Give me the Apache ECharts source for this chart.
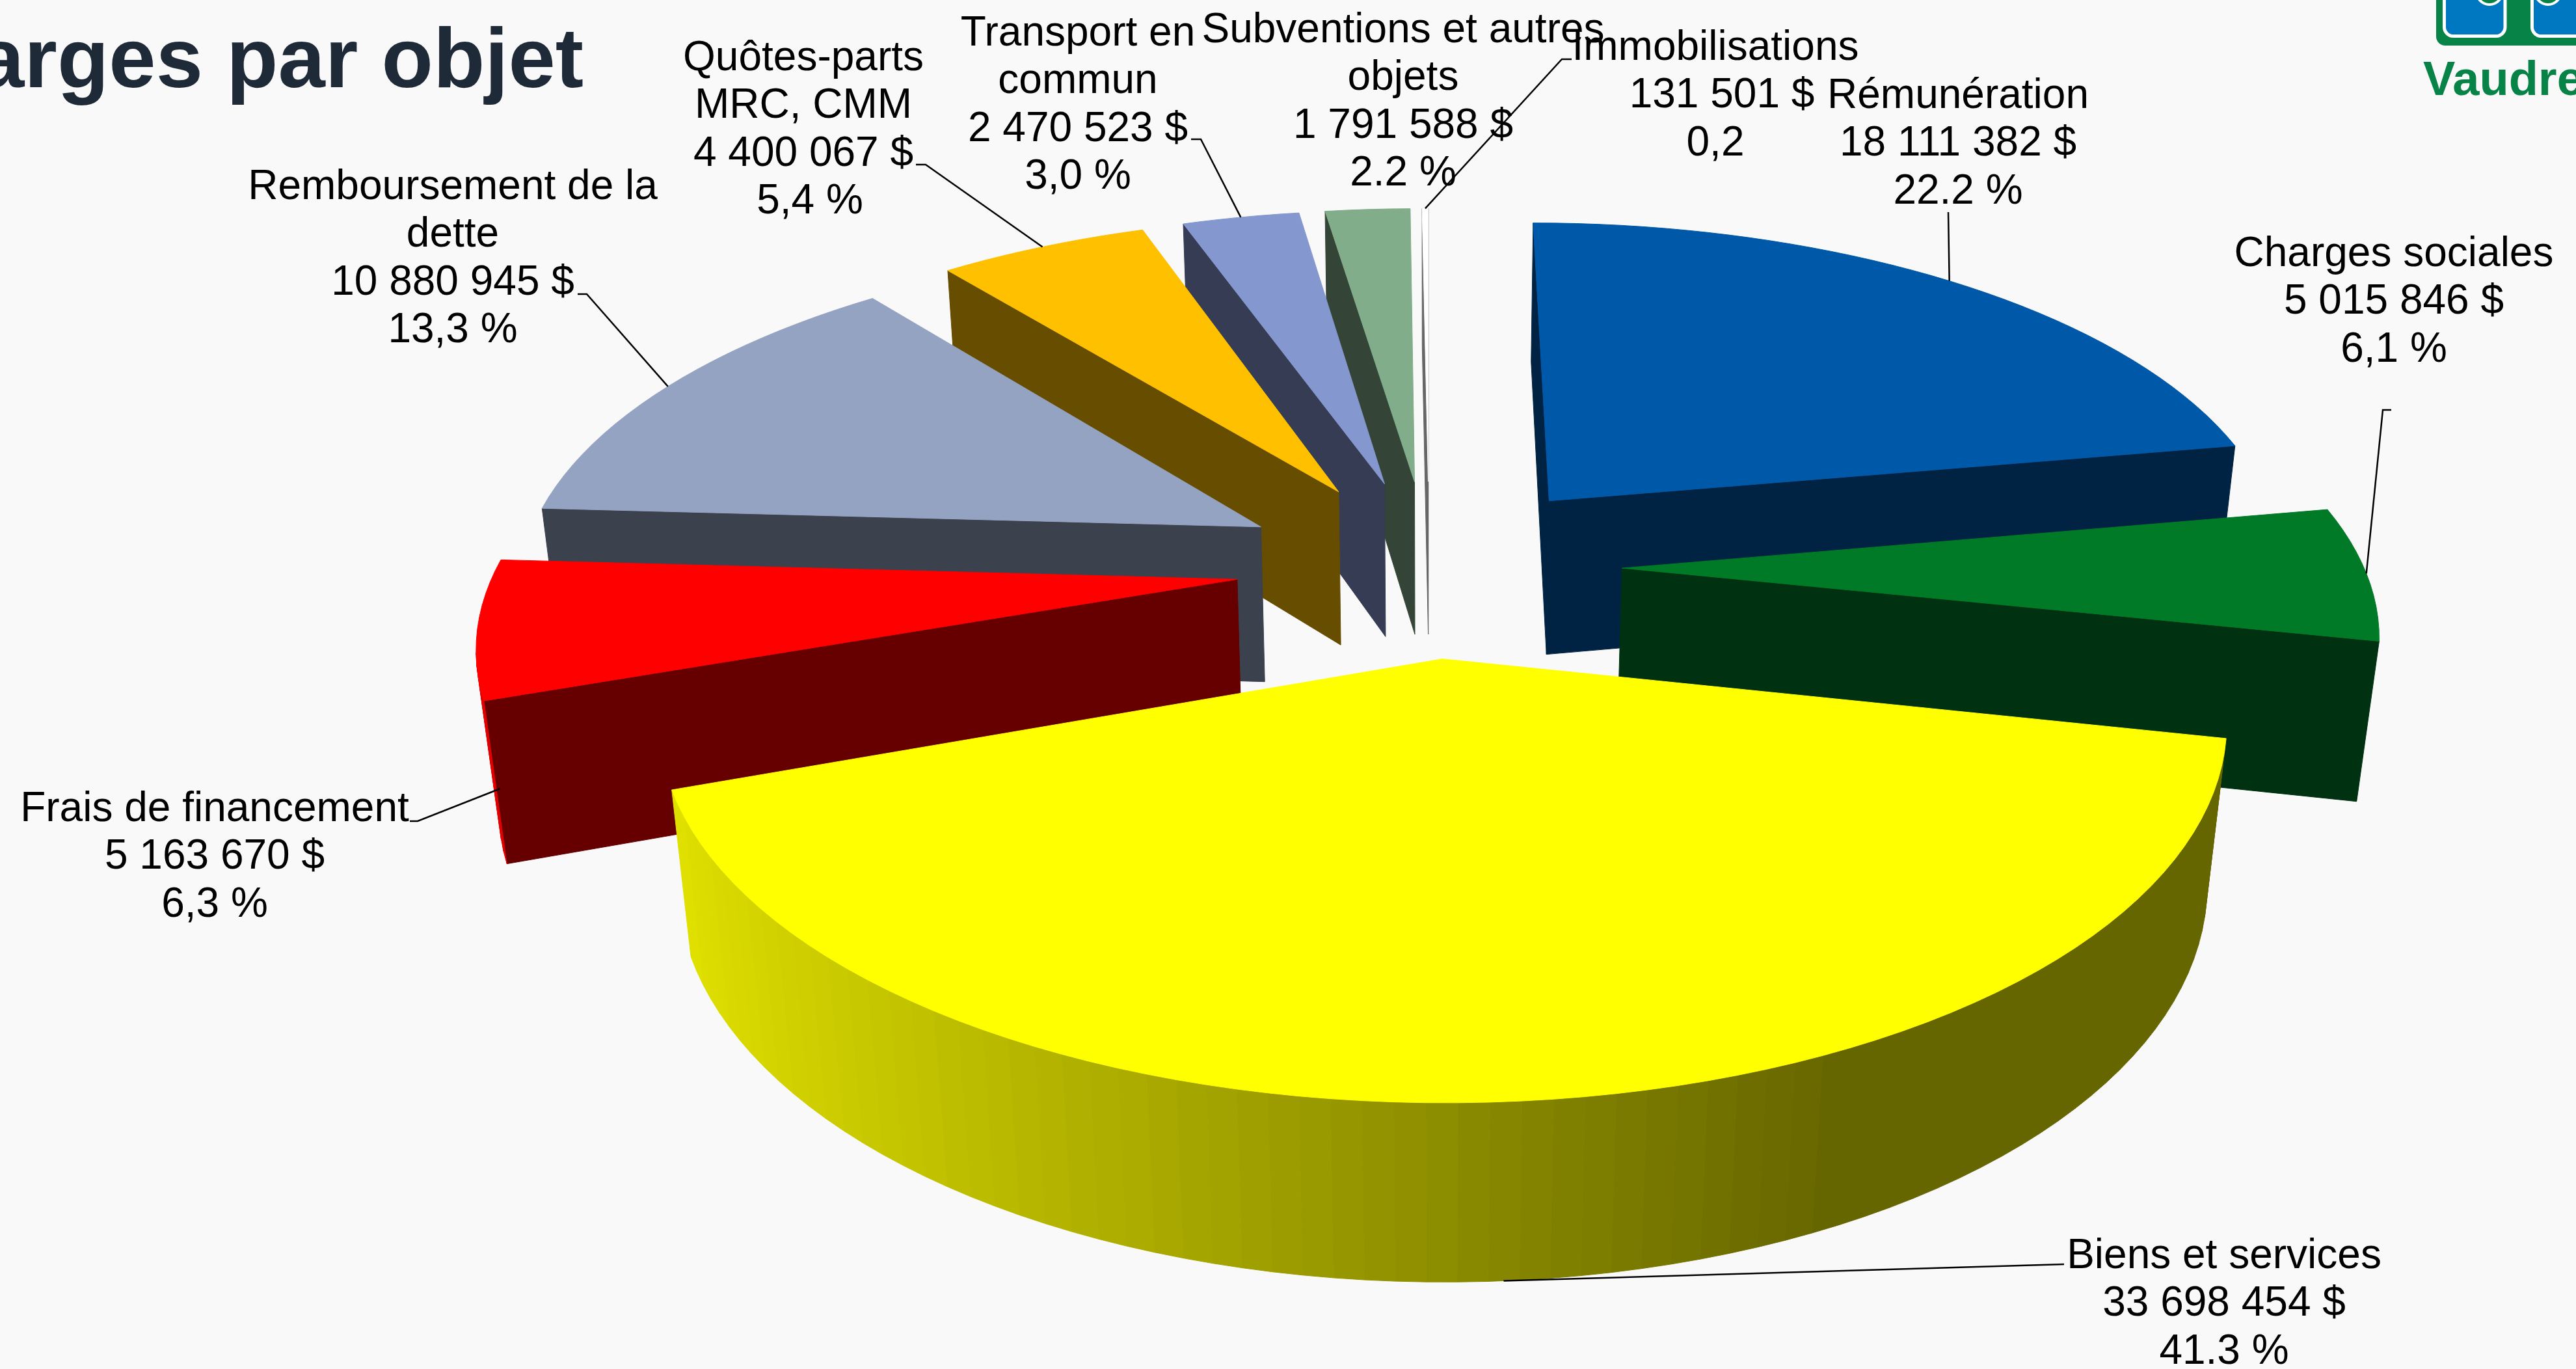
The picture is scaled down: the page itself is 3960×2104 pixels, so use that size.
<!DOCTYPE html>
<html>
<head>
<meta charset="utf-8">
<title>Charges par objet</title>
<script src="https://cdn.jsdelivr.net/npm/echarts@6/dist/echarts.min.js"></script>
<style>
html, body { margin: 0; padding: 0; background: #f9f9f9; overflow: hidden; }
#main { width: 3960px; height: 2104px; }
</style>
</head>
<body>
<div id="main"></div>
<script>
// data
const categories = [
    ['Rémunération'],
    ['Charges sociales'],
    ['Biens et services'],
    ['Frais de financement'],
    ['Remboursement de la', 'dette'],
    ['Quôtes-parts', 'MRC, CMM'],
    ['Transport en', 'commun'],
    ['Subventions et autres', 'objets'],
    ['Immobilisations']
];
const values = [18111382, 5015846, 33698454, 5163670, 10880945, 4400067, 2470523, 1791588, 131501];
const percentLabels = ['22.2 %', '6,1 %', '41.3 %', '6,3 %', '13,3 %', '5,4 %', '3,0 %', '2.2 %', '0,2'];

// styles
const sliceColors = ['#0058a8', '#007a27', '#ffff00', '#ff0000', '#95a3c3', '#ffc000', '#8497cf', '#82ad8a', '#ffffff'];
const labelCenterX = [3010, 3680, 3419, 330, 696, 1235, 1657, 2157, 2637];
const labelFirstY = [148, 391, 1931, 1244, 288, 90, 52, 47, 74];
const valueLineShift = [0, 0, 0, 0, 0, 0, 0, 0, 10];
const percentLineShift = [0, 0, 0, 0, 0, 10, 0, 0, 0];
const leaderStart = [
    [[2995, 326]],
    [[3676, 630], [3663, 630]],
    [[3173, 1943]],
    [[630, 1262], [642, 1262]],
    [[888, 452], [902, 452]],
    [[1408, 253], [1423, 253]],
    [[1831, 214], [1846, 214]],
    null,
    [[2416, 91], [2401, 91]]
];
// 1 = leader stops at the bottom edge of the rim
const leaderOnBottom = [0, 0, 1, 1, 0, 0, 0, 0, 0];

const LINE_H = 73.5;
const FONT = '"Liberation Sans", Arial, sans-serif';

// perspective camera, fitted on the reference
const CX = 2197, CY = 871;
const SX = 1140, SY = 524, DEPTH = 246.5;
const PERSP = 0.158, PERSP_Z = 0.0235;
const EXPLODE = 0.26;

function project(x, y, z) {
    const w = 1 + PERSP * y + PERSP_Z * z;
    return [CX + SX * x / w, CY + (-SY * y + DEPTH * z) / w];
}

function shade(hex, b) {
    const n = parseInt(hex.slice(1), 16);
    const r = Math.round((n >> 16 & 255) * b);
    const g = Math.round((n >> 8 & 255) * b);
    const bl = Math.round((n & 255) * b);
    return 'rgb(' + r + ',' + g + ',' + bl + ')';
}

const total = values.reduce((a, b) => a + b, 0);
const slices = [];
let acc = 0;
values.forEach((v) => {
    const a0 = acc / total * Math.PI * 2;
    acc += v;
    const a1 = acc / total * Math.PI * 2;
    const mid = (a0 + a1) / 2;
    slices.push({ a0, a1, mid, ox: EXPLODE * Math.sin(mid), oy: EXPLODE * Math.cos(mid) });
});
// far slices are painted first
const paintRank = [];
slices.map((s, i) => [s.oy, i]).sort((a, b) => b[0] - a[0]).forEach((p, r) => { paintRank[p[1]] = r; });

function facesCamera(nx, ny, x, y) {
    return nx * (0 - x) + ny * (-1 / PERSP - y) > 0;
}

function formatMoney(v) {
    return String(v).replace(/\B(?=(\d{3})+$)/g, ' ') + ' $';
}

function renderSlice(params, api) {
    const i = params.dataIndex;
    const s = slices[i];
    const color = sliceColors[i];
    const base = paintRank[i] * 10 + 1;
    const children = [];
    const rim = (a, z) => project(s.ox + Math.sin(a), s.oy + Math.cos(a), z);
    const apex = z => project(s.ox, s.oy, z);
    const dark = shade(color, 0.4);

    // cut faces
    [[s.a0, -Math.PI / 2], [s.a1, Math.PI / 2]].forEach((f) => {
        const n = f[0] + f[1];
        if (facesCamera(Math.sin(n), Math.cos(n), s.ox, s.oy)) {
            children.push({
                type: 'polygon',
                z2: base,
                shape: { points: [apex(0), rim(f[0], 0), rim(f[0], 1), apex(1)] },
                style: { fill: dark, stroke: dark, lineWidth: 1 }
            });
        }
    });

    // rim, small quads so the shading follows the angle
    const steps = Math.max(1, Math.ceil((s.a1 - s.a0) / (Math.PI / 90)));
    for (let k = 0; k < steps; k++) {
        const t0 = s.a0 + (s.a1 - s.a0) * k / steps;
        const t1 = s.a0 + (s.a1 - s.a0) * (k + 1) / steps;
        const tm = (t0 + t1) / 2;
        const px = s.ox + Math.sin(tm), py = s.oy + Math.cos(tm);
        if (!facesCamera(Math.sin(tm), Math.cos(tm), px, py)) continue;
        const c = shade(color, Math.max(0.4, 0.55 - 0.35 * Math.sin(tm)));
        children.push({
            type: 'polygon',
            z2: base + 1,
            shape: { points: [rim(t0, 0), rim(t1, 0), rim(t1, 1), rim(t0, 1)] },
            style: { fill: c, stroke: c, lineWidth: 1 }
        });
    }

    // top
    const top = [apex(0)];
    for (let k = 0; k <= steps; k++) {
        top.push(rim(s.a0 + (s.a1 - s.a0) * k / steps, 0));
    }
    children.push({
        type: 'polygon',
        z2: base + 2,
        shape: { points: top },
        style: { fill: color, stroke: color, lineWidth: 1 }
    });

    // leader
    if (leaderStart[i]) {
        const end = rim(s.mid, leaderOnBottom[i]);
        children.push({
            type: 'polyline',
            z2: 200,
            shape: { points: leaderStart[i].concat([end]) },
            style: { fill: 'none', stroke: '#000', lineWidth: 2.5 }
        });
    }

    // label
    const lines = categories[i].concat([formatMoney(api.value(0)), percentLabels[i]]);
    lines.forEach((t, k) => {
        let shift = 0;
        if (k === lines.length - 2) shift = valueLineShift[i];
        if (k === lines.length - 1) shift = percentLineShift[i];
        children.push({
            type: 'text',
            z2: 300,
            style: {
                x: labelCenterX[i] + shift,
                y: labelFirstY[i] + k * LINE_H,
                text: t,
                fill: '#000',
                fontSize: 64,
                fontFamily: FONT,
                align: 'center',
                verticalAlign: 'middle'
            }
        });
    });

    return { type: 'group', children: children };
}

const myChart = echarts.init(document.getElementById('main'));
myChart.setOption({
    backgroundColor: '#f9f9f9',
    animation: false,
    graphic: [
        // title runs off the left of the slide
        {
            type: 'text',
            x: 897,
            y: 98,
            style: {
                text: 'Charges par objet',
                fill: '#1f2a38',
                fontSize: 130,
                fontWeight: 'bold',
                fontFamily: FONT,
                align: 'right',
                verticalAlign: 'middle'
            }
        },
        // logo, cut by the top right corner
        {
            type: 'rect',
            shape: { x: 3745, y: -60, width: 300, height: 130, r: 14 },
            style: { fill: '#088347' }
        },
        {
            type: 'rect',
            shape: { x: 3757.5, y: -60, width: 93.5, height: 115.5, r: 14 },
            style: { fill: '#0078c1', stroke: '#fff', lineWidth: 5 }
        },
        {
            type: 'rect',
            shape: { x: 3892.5, y: -60, width: 120, height: 115.5, r: 14 },
            style: { fill: '#0078c1', stroke: '#fff', lineWidth: 5 }
        },
        {
            type: 'circle',
            shape: { cx: 3827, cy: -13, r: 20 },
            style: { fill: '#088347', stroke: '#fff', lineWidth: 4 }
        },
        {
            type: 'circle',
            shape: { cx: 3917, cy: -13, r: 20 },
            style: { fill: '#088347', stroke: '#fff', lineWidth: 4 }
        },
        {
            type: 'text',
            x: 3725,
            y: 163,
            style: {
                text: 'Vaudreuil',
                fill: '#088347',
                fontSize: 74,
                fontWeight: 'bold',
                fontFamily: FONT,
                align: 'left',
                verticalAlign: 'bottom'
            }
        }
    ],
    series: [
        {
            type: 'custom',
            coordinateSystem: 'none',
            renderItem: renderSlice,
            data: values,
            silent: true
        }
    ]
});
</script>
</body>
</html>
